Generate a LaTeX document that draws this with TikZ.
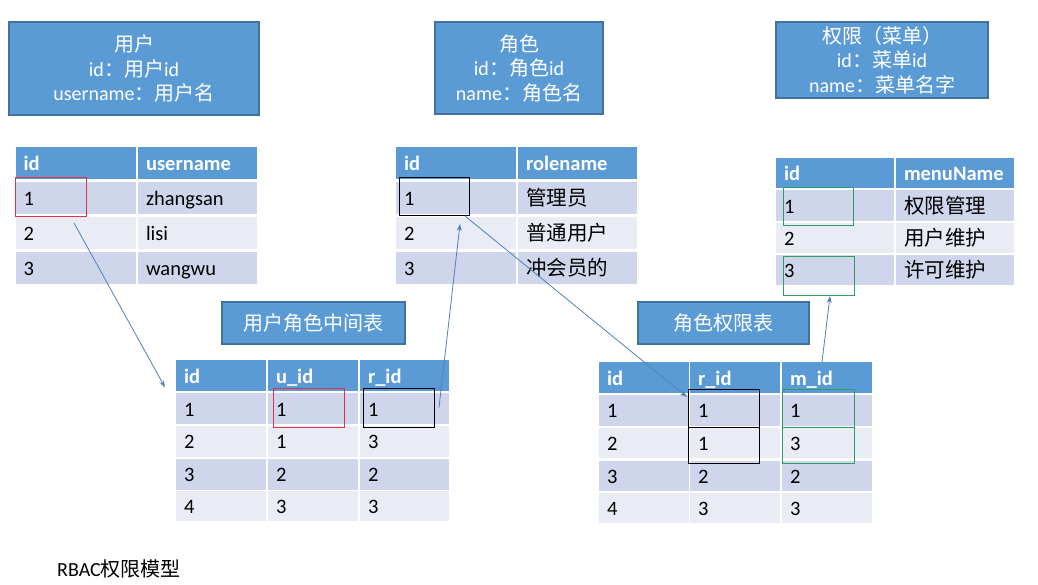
\documentclass[tikz,border=0pt]{standalone}
\usepackage{fontspec}
\setmainfont{Carlito}
\newfontfamily\cjk{Noto Sans CJK SC}
\usetikzlibrary{arrows.meta}
\definecolor{hdr}{HTML}{5B9BD5}
\definecolor{bandA}{HTML}{CFD5EA}
\definecolor{bandB}{HTML}{E9EBF5}
\definecolor{tdraw}{HTML}{41719C}
\definecolor{linkc}{HTML}{4F81BD}
\definecolor{hlred}{HTML}{E0304A}
\definecolor{hlgreen}{HTML}{2E9E68}
\tikzset{
  cellbase/.style={rectangle, inner xsep=8pt, inner ysep=0pt, outer sep=0pt,
    text height=16.5pt, text depth=1.5pt, align=left,
    font=\fontsize{20.5pt}{24pt}\selectfont},
  hdrcell/.style={cellbase, fill=hdr, text=white,
    font=\fontsize{20.5pt}{24pt}\selectfont\bfseries},
  bandone/.style={cellbase, fill=bandA},
  bandtwo/.style={cellbase, fill=bandB},
  titlebox/.style={rectangle, fill=hdr, draw=tdraw, line width=1.2pt, text=white,
    align=center, font=\fontsize{20pt}{24.5pt}\selectfont, inner sep=0pt, outer sep=0pt},
  hlbox/.style={rectangle, line width=1pt, inner sep=0pt, outer sep=0pt},
  link/.style={draw=linkc, line width=0.8pt, -{Stealth[length=7pt,width=5pt]}},
}
\newcommand\tcell[7]{%
  \pgfmathsetmacro\tcw{#4-16}%
  \node[#6, text width=\tcw pt, minimum height=#5pt, anchor=north west] (#1) at (#2,#3) {#7};}
\newcommand\hlrect[6]{%
  \pgfmathsetmacro\hlw{#4-#2}\pgfmathsetmacro\hlh{#5-#3}%
  \node[hlbox, draw=#6, minimum width=\hlw pt, minimum height=\hlh pt, anchor=north west] (#1) at (#2,#3) {};}
\newcommand\tbox[6]{%
  \pgfmathsetmacro\tbw{#4-#2}\pgfmathsetmacro\tbh{#5-#3}%
  \node[titlebox, minimum width=\tbw pt, minimum height=\tbh pt, anchor=north west] (#1) at (#2,#3) {#6};}
\begin{document}
\begin{tikzpicture}[x=1pt,y=-1pt]
\useasboundingbox (0,0) rectangle (1038,585);
\fill[white] (0,0) rectangle (1038,585);

% title boxes
\tbox{tuser}{9}{22}{259}{115}{{\cjk 用户}\\id{\cjk ：用户}id\\username{\cjk ：用户名}}
\tbox{trole}{435}{22}{603}{114}{{\cjk 角色}\\id{\cjk ：角色}id\\name{\cjk ：角色名}}
\tbox{tmenu}{776}{22}{988}{98}{{\cjk 权限（菜单）}\\id{\cjk ：菜单}id\\name{\cjk ：菜单名字}}
\tbox{tmid}{222}{302}{405}{344}{{\cjk 用户角色中间表}}
\tbox{trp}{638}{302}{809}{344}{{\cjk 角色权限表}}

% user table
\tcell{u-h1}{15.5}{147}{120.5}{32}{hdrcell}{id}
\tcell{u-h2}{138}{147}{119}{32}{hdrcell}{username}
\tcell{u-r1c1}{15.5}{182}{120.5}{32}{bandone}{1}
\tcell{u-r1c2}{138}{182}{119}{32}{bandone}{zhangsan}
\tcell{u-r2c1}{15.5}{217}{120.5}{32}{bandtwo}{2}
\tcell{u-r2c2}{138}{217}{119}{32}{bandtwo}{lisi}
\tcell{u-r3c1}{15.5}{252}{120.5}{32}{bandone}{3}
\tcell{u-r3c2}{138}{252}{119}{32}{bandone}{wangwu}

% role table
\tcell{r-h1}{396}{147}{120}{32}{hdrcell}{id}
\tcell{r-h2}{518}{147}{119}{32}{hdrcell}{rolename}
\tcell{r-r1c1}{396}{182}{120}{32}{bandone}{1}
\tcell{r-r1c2}{518}{182}{119}{32}{bandone}{{\cjk 管理员}}
\tcell{r-r2c1}{396}{217}{120}{32}{bandtwo}{2}
\tcell{r-r2c2}{518}{217}{119}{32}{bandtwo}{{\cjk 普通用户}}
\tcell{r-r3c1}{396}{252}{120}{32}{bandone}{3}
\tcell{r-r3c2}{518}{252}{119}{32}{bandone}{{\cjk 冲会员的}}

% menu table
\tcell{m-h1}{776}{158}{118}{30}{hdrcell}{id}
\tcell{m-h2}{896}{158}{118}{30}{hdrcell}{menuName}
\tcell{m-r1c1}{776}{190.3}{118}{30.5}{bandone}{1}
\tcell{m-r1c2}{896}{190.3}{118}{30.5}{bandone}{{\cjk 权限管理}}
\tcell{m-r2c1}{776}{222.6}{118}{30.5}{bandtwo}{2}
\tcell{m-r2c2}{896}{222.6}{118}{30.5}{bandtwo}{{\cjk 用户维护}}
\tcell{m-r3c1}{776}{254.9}{118}{30.5}{bandone}{3}
\tcell{m-r3c2}{896}{254.9}{118}{30.5}{bandone}{{\cjk 许可维护}}

% user-role table
\tcell{ur-h1}{176}{360}{90}{31}{hdrcell}{id}
\tcell{ur-h2}{268}{360}{90}{31}{hdrcell}{u\_id}
\tcell{ur-h3}{360}{360}{89}{31}{hdrcell}{r\_id}
\tcell{ur-r1c1}{176}{393.4}{90}{30.5}{bandone}{1}
\tcell{ur-r1c2}{268}{393.4}{90}{30.5}{bandone}{1}
\tcell{ur-r1c3}{360}{393.4}{89}{30.5}{bandone}{1}
\tcell{ur-r2c1}{176}{426.2}{90}{30.5}{bandtwo}{2}
\tcell{ur-r2c2}{268}{426.2}{90}{30.5}{bandtwo}{1}
\tcell{ur-r2c3}{360}{426.2}{89}{30.5}{bandtwo}{3}
\tcell{ur-r3c1}{176}{459}{90}{30.5}{bandone}{3}
\tcell{ur-r3c2}{268}{459}{90}{30.5}{bandone}{2}
\tcell{ur-r3c3}{360}{459}{89}{30.5}{bandone}{2}
\tcell{ur-r4c1}{176}{491.4}{90}{30}{bandtwo}{4}
\tcell{ur-r4c2}{268}{491.4}{90}{30}{bandtwo}{3}
\tcell{ur-r4c3}{360}{491.4}{89}{30}{bandtwo}{3}

% role-permission table
\tcell{rp-h1}{599}{362}{89.5}{31}{hdrcell}{id}
\tcell{rp-h2}{690}{362}{90}{31}{hdrcell}{r\_id}
\tcell{rp-h3}{782}{362}{90}{31}{hdrcell}{m\_id}
\tcell{rp-r1c1}{599}{395}{89.5}{30.5}{bandone}{1}
\tcell{rp-r1c2}{690}{395}{90}{30.5}{bandone}{1}
\tcell{rp-r1c3}{782}{395}{90}{30.5}{bandone}{1}
\tcell{rp-r2c1}{599}{427.8}{89.5}{30.5}{bandtwo}{2}
\tcell{rp-r2c2}{690}{427.8}{90}{30.5}{bandtwo}{1}
\tcell{rp-r2c3}{782}{427.8}{90}{30.5}{bandtwo}{3}
\tcell{rp-r3c1}{599}{460.6}{89.5}{30.5}{bandone}{3}
\tcell{rp-r3c2}{690}{460.6}{90}{30.5}{bandone}{2}
\tcell{rp-r3c3}{782}{460.6}{90}{30.5}{bandone}{2}
\tcell{rp-r4c1}{599}{493.4}{89.5}{30}{bandtwo}{4}
\tcell{rp-r4c2}{690}{493.4}{90}{30}{bandtwo}{3}
\tcell{rp-r4c3}{782}{493.4}{90}{30}{bandtwo}{3}

% highlight boxes
\hlrect{ured}{15}{178}{86}{217}{hlred}
\hlrect{rblk}{399}{178}{469}{216}{black}
\hlrect{mgrn1}{783}{188}{853}{226}{hlgreen}
\hlrect{mgrn3}{783}{257}{854}{295}{hlgreen}
\hlrect{mred}{273}{388}{344}{427}{hlred}
\hlrect{mblk}{363}{388}{434}{427}{black}
\hlrect{pblk1}{688}{389}{759}{427}{black}
\hlrect{pblk2}{688}{427}{759}{463}{black}
\hlrect{pgrn1}{782}{389}{854}{427}{hlgreen}
\hlrect{pgrn2}{782}{427}{854}{463}{hlgreen}

% connectors
\draw[link] ([shift={(-12,6)}]ured.south east) -- ([shift={(-11,-6)}]ur-r1c1.north west);
\draw[link] ([shift={(5,0)}]mblk.east) -- ([shift={(-9,8)}]rblk.south east);
\draw[link] ([shift={(-4,0)}]rblk.south east) -- ([shift={(-1,8)}]pblk1.north west);
\draw[link] ([shift={(40,0)}]rp-h3.north west) -- ([shift={(-24,1)}]mgrn3.south east);

% footer
\node[anchor=base west, inner sep=0pt, font=\fontsize{20pt}{24pt}\selectfont] (foot) at (57,576) {RBAC{\cjk 权限模型}};
\end{tikzpicture}
\end{document}
